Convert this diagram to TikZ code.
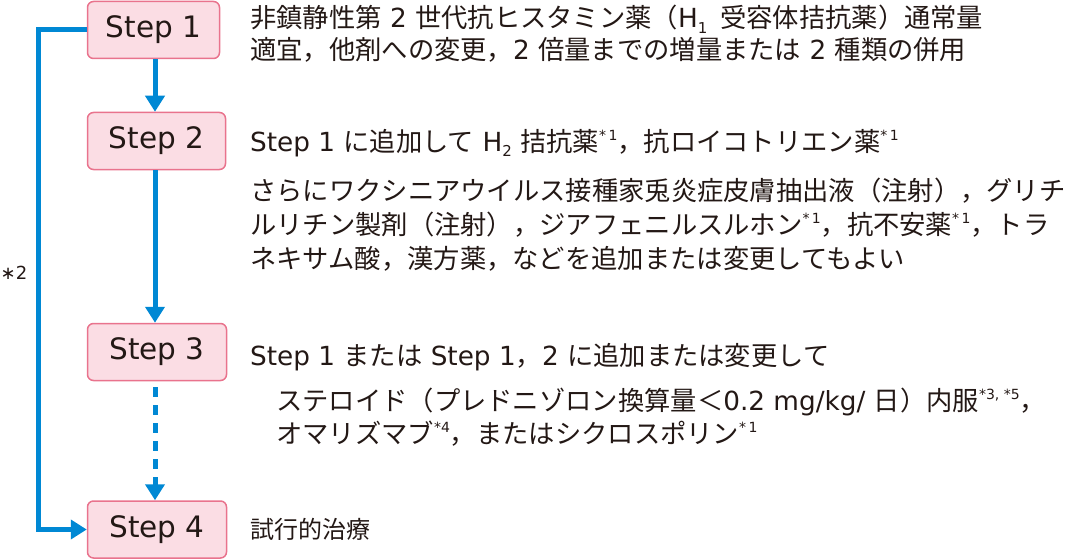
\documentclass[tikz,border=0pt]{standalone}
\usepackage{fontspec}
\setmainfont{Noto Sans CJK JP}
\newfontfamily\lt{DejaVu Sans}
\usetikzlibrary{arrows.meta}
\definecolor{boxfill}{HTML}{FBDDE4}
\definecolor{boxline}{HTML}{E9738D}
\definecolor{flow}{HTML}{0088D4}
\definecolor{ink}{HTML}{231815}
\newcommand\la[1]{{\lt #1}}
\newcommand\nt[1]{\raisebox{0.4em}{\fontsize{14}{14}\selectfont\lt #1}}
\newcommand\lsub[1]{\raisebox{-0.2em}{\fontsize{15}{15}\selectfont\lt #1}}
\begin{document}
\begin{tikzpicture}[x=1pt,y=-1pt,
  stepbox/.style={draw=boxline, fill=boxfill, line width=1.5pt, rounded corners=6pt,
    inner sep=0pt, minimum height=57pt, font=\fontsize{29.5}{29.5}\selectfont\lt, text=ink},
  txt/.style={anchor=base west, inner sep=0pt, font=\fontsize{26.3}{30}\selectfont, text=ink},
  arr/.style={draw=flow, line width=5pt, -{Triangle[width=19pt,length=16pt]}},
  note/.style={inner sep=0pt, font=\fontsize{18}{18}\selectfont\lt, text=ink}]
\useasboundingbox (0,0) rectangle (1068,559);

\node[stepbox, minimum width=132pt] (s1) at (153.5,30) {Step 1};
\node[stepbox, minimum width=138pt] (s2) at (156.5,141) {Step 2};
\node[stepbox, minimum width=139pt] (s3) at (157,352) {Step 3};
\node[stepbox, minimum width=139pt] (s4) at (157,529.5) {Step 4};
\coordinate (ax) at (155,0);

\draw[arr] (s1.south -| ax) -- (s2.north -| ax);
\draw[arr] (s2.south -| ax) -- (s3.north -| ax);
\draw[arr, dash pattern=on 10pt off 8pt, dash phase=12pt] (s3.south -| ax) -- (s4.north -| ax);
\draw[arr] (s1.west) -- ++(-48,0) |- (s4.west);
\node[note] (n2) at (14,273) {∗2};

\node[txt] (t1) at (250,28) {非鎮静性第\la{\ 2\ }世代抗ヒスタミン薬（\la{H}\lsub{1}\la{\ \,}受容体拮抗薬）通常量};
\node[txt] (t2) at (250,60) {適宜，他剤への変更，\la{2\ }倍量までの増量または\la{\ 2\ }種類の併用};
\node[txt] (t3) at (250,151) {\la{Step 1\ }に追加して\la{\ H}\lsub{2}\la{\ }拮抗薬\nt{*\,1}，抗ロイコトリエン薬\nt{*\,1}};
\node[txt] (t4) at (250,200) {さらにワクシニアウイルス接種家兎炎症皮膚抽出液（注射），グリチ};
\node[txt] (t5) at (250,234) {ルリチン製剤（注射），ジアフェニルスルホン\nt{*\,1}，抗不安薬\nt{*\,1}，トラ};
\node[txt] (t6) at (250,268) {ネキサム酸，漢方薬，などを追加または変更してもよい};
\node[txt] (t7) at (250,365) {\la{Step 1\ }または\la{\ Step 1}，\la{2\ }に追加または変更して};
\node[txt] (t8) at (276,410) {ステロイド（プレドニゾロン換算量＜\la{0.2 mg/kg/\ }日）内服\nt{*3, *5}，};
\node[txt] (t9) at (276,443) {オマリズマブ\nt{*4}，またはシクロスポリン\nt{*\,1}};
\node[txt, font=\fontsize{24}{28}\selectfont] (t10) at (250,538) {試行的治療};
\end{tikzpicture}
\end{document}
